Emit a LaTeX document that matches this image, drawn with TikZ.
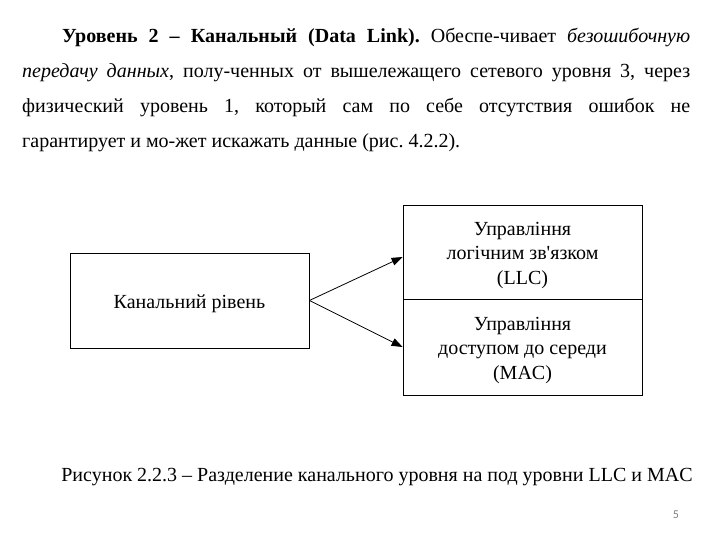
\documentclass[tikz,border=0pt]{standalone}
\usepackage{fontspec}
\setmainfont{Liberation Serif}[Ligatures=TeXOff]
\newfontfamily\pagenumfont{Carlito}
\usetikzlibrary{arrows.meta}
\begin{document}
\begin{tikzpicture}[x=1pt,y=-1pt,
  box/.style={draw,line width=0.8pt,inner sep=0pt},
  lbl/.style={inner sep=0pt,align=center,font=\fontsize{20}{24.5}\selectfont,yshift=-3.5pt},
  conn/.style={line width=0.8pt,-{Triangle[length=11pt,width=8pt]}}]
\useasboundingbox (0,0) rectangle (720,540);
\node[inner sep=0pt,anchor=base west] (para) at (22,43) {%
\begin{minipage}[t]{668pt}\fontsize{20}{35}\selectfont\frenchspacing
\setlength{\parindent}{40pt}\hyphenpenalty=10000 \exhyphenpenalty=10000
\textbf{Уровень 2 – Канальный (Data Link).} Обеспе-чивает \textit{безошибочную}\linebreak
\textit{передачу данных}, полу-ченных от вышележащего сетевого уровня 3, через\linebreak
физический уровень 1, который сам по себе отсутствия ошибок не\linebreak
гарантирует и мо-жет искажать данные (рис. 4.2.2).
\end{minipage}};
\node[box,minimum width=239pt,minimum height=95pt,
  label={[lbl]center:Канальний рівень}] (kan) at (189.5,300.5) {};
\node[box,minimum width=239pt,minimum height=94pt,
  label={[lbl]center:{Управління\\логічним зв'язком\\(LLC)}}] (llc) at (522.5,252) {};
\node[box,minimum width=239pt,minimum height=96pt,
  label={[lbl]center:{Управління\\доступом до середи\\(MAC)}}] (mac) at (522.5,347) {};
\draw[conn] (kan.east) -- ([yshift=-5pt]llc.west);
\draw[conn] (kan.east) -- (mac.west);
\node[inner sep=0pt,font=\fontsize{20}{24}\selectfont] (cap) at (377,477) {Рисунок 2.2.3 – Разделение канального уровня на под уровни LLC и MAC};
\node[inner sep=0pt,text=gray,font=\pagenumfont\fontsize{12}{14}\selectfont] (pnum) at (676,515) {5};
\end{tikzpicture}
\end{document}
